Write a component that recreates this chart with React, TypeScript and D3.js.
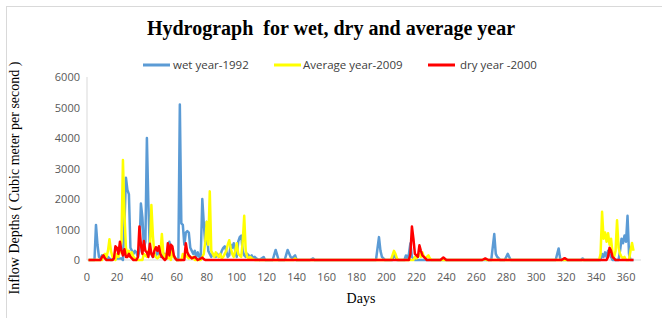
import React from "react";
import * as d3 from "d3";

const xTicks = [0, 20, 40, 60, 80, 100, 120, 140, 160, 180, 200, 220, 240, 260, 280, 300, 320, 340, 360];
const yTicks = [0, 1000, 2000, 3000, 4000, 5000, 6000];

const seriesNames = ["wet year-1992", "Average year-2009", "dry year -2000"];
const seriesColors = ["#5b9bd5", "#ffff00", "#ff0000"];

// wet year (blue) — [day, value] readings
const wetYear: [number, number][] = [
  [1, 0], [5, 0], [6, 1150], [7, 500], [8, 100], [9, 50], [10, 150], [11, 100], [12, 150], [13, 50], [14, 100], [15, 50], [16, 0],
  [19, 50], [23, 50], [24, 0], [25, 1200], [26, 2700], [27, 2300], [28, 2150], [29, 400], [30, 300], [31, 200], [32, 300], [33, 250],
  [34, 100], [35, 300], [36, 1850], [37, 1400], [38, 400], [39, 600], [40, 4000], [41, 1800], [42, 300], [43, 200], [44, 100],
  [45, 200], [46, 100], [47, 300], [48, 200], [49, 100], [50, 150], [51, 100], [52, 200], [53, 100], [54, 300], [55, 600], [56, 400],
  [57, 200], [58, 100], [59, 50], [60, 0], [61, 0], [62, 5100], [63, 1200], [64, 1150], [65, 500], [66, 900], [67, 950], [68, 900],
  [69, 400], [70, 300], [71, 200], [72, 300], [73, 100], [74, 250], [75, 100], [76, 150], [77, 2000], [78, 1200], [79, 500],
  [80, 1250], [81, 300], [82, 200], [83, 100], [84, 200], [85, 150], [86, 100], [87, 200], [88, 100], [89, 150], [90, 300],
  [91, 400], [92, 450], [93, 300], [94, 100], [95, 150], [96, 500], [97, 400], [98, 550], [99, 300], [100, 100], [101, 600],
  [102, 750], [103, 800], [104, 300], [105, 150], [106, 100], [107, 200], [108, 150], [109, 100], [110, 150], [111, 50], [112, 100],
  [113, 50], [115, 0], [118, 100], [119, 0], [124, 0], [126, 330], [128, 0], [132, 0], [134, 330], [136, 100], [137, 50], [139, 150],
  [140, 0], [149, 0], [151, 50], [152, 0], [193, 0], [195, 750], [196, 300], [197, 100], [198, 50], [199, 0], [204, 0], [205, 200],
  [206, 100], [207, 0], [212, 0], [213, 150], [214, 50], [215, 200], [216, 550], [217, 100], [218, 50], [219, 0], [270, 0], [272, 850],
  [273, 200], [274, 100], [275, 50], [276, 0], [279, 0], [281, 200], [282, 100], [283, 0], [313, 0], [315, 380], [316, 50], [317, 0],
  [330, 0], [331, 50], [332, 0], [343, 0], [344, 200], [345, 100], [346, 250], [347, 100], [348, 300], [349, 200], [350, 100],
  [351, 0], [355, 0], [356, 300], [357, 700], [358, 550], [359, 800], [360, 600], [361, 1450], [362, 200], [363, 0], [365, 0],
];

// average year (yellow)
const averageYear: [number, number][] = [
  [1, 0], [10, 0], [11, 150], [12, 200], [13, 100], [14, 300], [15, 680], [16, 300], [17, 100], [18, 50], [19, 0], [20, 200],
  [21, 100], [22, 300], [23, 600], [24, 3280], [25, 1500], [26, 400], [27, 200], [28, 300], [29, 100], [30, 250], [31, 100],
  [32, 50], [33, 0], [37, 0], [38, 200], [39, 150], [40, 100], [41, 300], [42, 200], [43, 1800], [44, 800], [45, 200], [46, 100],
  [47, 50], [48, 100], [49, 200], [50, 850], [51, 200], [52, 100], [53, 200], [54, 50], [55, 100], [56, 0], [57, 300], [58, 100],
  [59, 50], [60, 0], [63, 0], [64, 200], [65, 100], [66, 150], [67, 100], [68, 50], [69, 100], [70, 50], [71, 100], [72, 0],
  [76, 0], [77, 100], [78, 200], [79, 600], [80, 1250], [81, 500], [82, 2250], [83, 300], [84, 200], [85, 100], [86, 250],
  [87, 150], [88, 100], [89, 200], [90, 50], [91, 100], [92, 200], [93, 300], [94, 500], [95, 650], [96, 400], [97, 200],
  [98, 100], [99, 300], [100, 550], [101, 200], [102, 150], [103, 100], [104, 600], [105, 1450], [106, 300], [107, 100],
  [108, 50], [109, 100], [110, 50], [112, 0], [138, 0], [139, 50], [140, 0], [203, 0], [204, 150], [205, 300], [206, 200],
  [207, 50], [208, 0], [218, 0], [219, 100], [220, 50], [222, 200], [223, 100], [224, 250], [225, 100], [226, 50], [228, 150],
  [229, 50], [230, 0], [264, 0], [266, 30], [267, 0], [342, 0], [343, 200], [344, 1580], [345, 700], [346, 900], [347, 600],
  [348, 880], [349, 500], [350, 700], [351, 200], [352, 100], [353, 300], [354, 1300], [355, 400], [356, 200], [357, 100],
  [358, 50], [359, 100], [360, 0], [362, 0], [363, 300], [364, 560], [365, 300],
];

// dry year (red)
const dryYear: [number, number][] = [
  [1, 0], [9, 0], [10, 100], [11, 150], [12, 50], [13, 0], [17, 0], [18, 50], [19, 450], [20, 400], [21, 200], [22, 600],
  [23, 300], [24, 150], [25, 350], [26, 100], [27, 100], [28, 200], [29, 100], [30, 50], [31, 0], [33, 0], [34, 100],
  [35, 1100], [36, 500], [37, 200], [38, 620], [39, 300], [40, 250], [41, 100], [42, 530], [43, 200], [44, 100], [45, 300],
  [46, 420], [47, 300], [48, 450], [49, 200], [50, 100], [51, 50], [52, 0], [53, 50], [54, 550], [55, 150], [56, 500],
  [57, 450], [58, 150], [59, 50], [60, 0], [65, 0], [66, 550], [67, 250], [68, 150], [69, 100], [70, 50], [72, 100], [73, 50],
  [74, 0], [76, 50], [77, 80], [78, 30], [79, 0], [215, 0], [216, 200], [217, 1100], [218, 700], [219, 200], [220, 150],
  [221, 100], [222, 480], [223, 300], [224, 150], [225, 100], [226, 50], [227, 0], [236, 0], [238, 80], [240, 0], [264, 0],
  [266, 50], [268, 0], [317, 0], [319, 60], [321, 0], [347, 0], [348, 100], [349, 400], [350, 300], [351, 100], [352, 50],
  [353, 0], [365, 0],
];

const allSeries = [wetYear, averageYear, dryYear];

export default function App() {
  const W = 662;
  const H = 318;
  const x = d3.scaleLinear().domain([0, 370]).range([87, 641]);
  const y = d3.scaleLinear().domain([0, 6000]).range([260, 77]);
  const line = d3
    .line<[number, number]>()
    .x((d) => x(d[0]))
    .y((d) => y(d[1]));

  const sans = "'Open Sans', 'Noto Sans', sans-serif";
  const serif = "'Liberation Serif', 'Times New Roman', serif";

  const legendItems = [
    { lx: 143, tx: 173 },
    { lx: 274, tx: 303 },
    { lx: 428, tx: 460 },
  ];

  return (
    <svg
      width={W}
      height={H}
      style={{ position: "absolute", left: 0, top: 0, background: "#fff" }}
    >
      <rect x={0} y={0} width={W} height={H} fill="#fff" />
      <rect x={6.5} y={6.5} width={800} height={400} fill="none" stroke="#d9d9d9" strokeWidth={1} />
      <text
        x={331}
        y={35}
        textAnchor="middle"
        fontFamily={serif}
        fontWeight="bold"
        fontSize={20}
        fill="#000"
        style={{ whiteSpace: "pre" }}
      >
        {"Hydrograph  for wet, dry and average year"}
      </text>
      {/* legend */}
      {seriesNames.map((name, i) => (
        <g key={name}>
          <line x1={legendItems[i].lx} x2={legendItems[i].lx + 27} y1={65} y2={65} stroke={seriesColors[i]} strokeWidth={3} />
          <text x={legendItems[i].tx} y={69} fontFamily={sans} fontSize={11.5} fill="#404040">
            {name}
          </text>
        </g>
      ))}
      {/* axes */}
      <line x1={x(0)} x2={x(0)} y1={y(6000)} y2={y(0)} stroke="#d9d9d9" strokeWidth={1} />
      <line x1={x(0)} x2={x(370)} y1={y(0)} y2={y(0)} stroke="#d9d9d9" strokeWidth={1} />
      {yTicks.map((t) => (
        <text key={t} x={80} y={y(t) + 4} textAnchor="end" fontFamily={sans} fontSize={11} fill="#595959">
          {t}
        </text>
      ))}
      {xTicks.map((t) => (
        <text key={t} x={x(t)} y={281} textAnchor="middle" fontFamily={sans} fontSize={11} fill="#595959">
          {t}
        </text>
      ))}
      {/* series */}
      {allSeries.map((s, i) => (
        <path
          key={i}
          d={line(s) || ""}
          fill="none"
          stroke={seriesColors[i]}
          strokeWidth={2.5}
          strokeLinejoin="round"
        />
      ))}
      <text x={361} y={303} textAnchor="middle" fontFamily={serif} fontSize={14} fill="#000">
        Days
      </text>
      <text
        transform="translate(19,178) rotate(-90)"
        textAnchor="middle"
        fontFamily={serif}
        fontSize={14}
        fill="#000"
      >
        Inflow Depths ( Cubic meter per second )
      </text>
    </svg>
  );
}
